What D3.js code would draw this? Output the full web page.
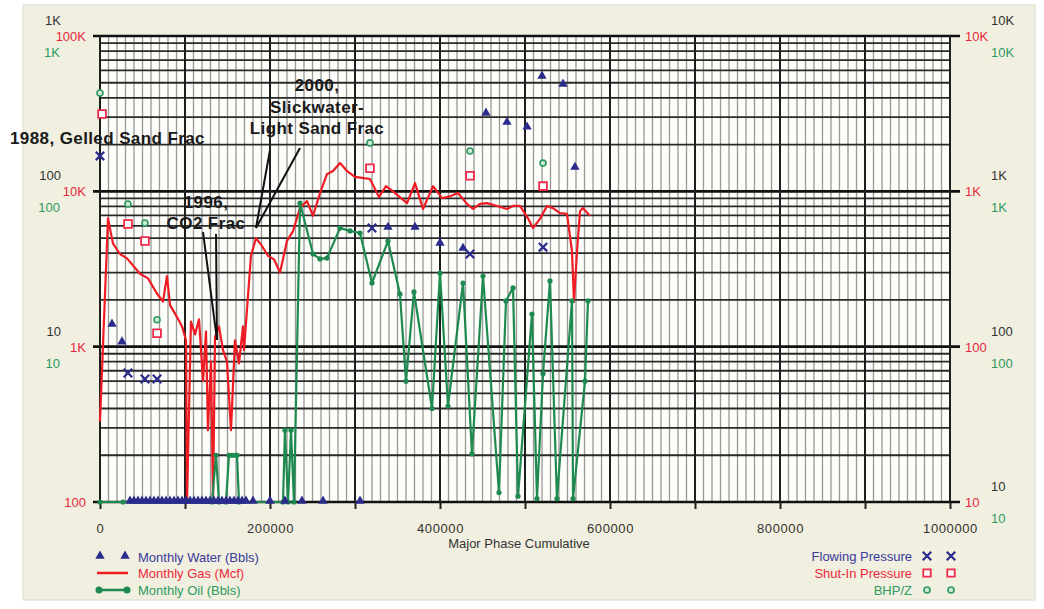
<!DOCTYPE html>
<html><head><meta charset="utf-8">
<script src="https://cdn.jsdelivr.net/npm/d3@7"></script>
<style>
body{margin:0;background:#fff;}
svg{display:block;font-family:"Liberation Sans",Arial,sans-serif;}
</style></head><body><svg id="c" width="1044" height="609"></svg>
<script>
// ---- DATA ----
// Monthly Gas (Mcf): [cumulative, value]
const gasData = [[0,330],[9400,6700],[15300,4600],[23500,3950],[31800,3700],[47000,2950],[56500,2750],[67000,2200],[74100,1950],[78800,2850],[82400,1850],[90600,1550],[96500,1350],[101200,1100],[102400,100],[107000,1450],[111800,1200],[116500,1500],[121200,600],[124700,1250],[127000,290],[130600,800],[133000,100],[135300,1150],[140000,1350],[144700,950],[149400,800],[154100,290],[158800,1100],[163500,780],[168200,1350],[169400,950],[177600,3850],[183500,5000],[190600,4450],[197600,3850],[204700,3650],[211800,3000],[220000,4800],[227100,5550],[235300,7800],[243500,8650],[250600,6950],[258800,9750],[267000,12900],[274100,13500],[282400,15200],[290600,13500],[300000,12400],[308200,12200],[317600,12000],[328200,9200],[336500,10800],[344700,10000],[361200,8400],[370600,11300],[380000,7700],[391800,10800],[402400,9050],[411800,9300],[421200,9750],[431800,8300],[438800,7700],[447100,8300],[455300,8400],[467100,8050],[478800,7700],[485900,8050],[494100,8050],[503500,6700],[509400,5800],[517600,6650],[525900,8050],[532900,7800],[541200,7250],[549400,7150],[555300,4100],[557600,1950],[561200,4100],[564700,7450],[568200,7800],[576500,6950]];
// Monthly Oil (Bbls)
const oilData = [[0,1],[27000,1],[131800,1],[136500,2],[140000,1],[148200,1],[151800,2],[155300,2],[158800,2],[161200,2],[163500,1],[215300,1],[217600,2.9],[221200,1],[224700,2.9],[228200,1],[235300,84],[250600,39.5],[258800,36.7],[267000,37.2],[282400,58],[294100,55.6],[305900,53.9],[320000,25.7],[338800,47.9],[352900,21.8],[360000,6],[369400,22.5],[390600,4],[400000,29.8],[409400,4.15],[427100,25.7],[437600,2.04],[450600,28.5],[469400,1.15],[477600,19.7],[485900,23.9],[491800,1.09],[508200,16.2],[514100,1.05],[521200,6.7],[529400,26.5],[537600,1.05],[555300,19.7],[556500,1.05],[570600,6],[574100,19.7]];
// Monthly Water (Bbls)
const waterData = [[14100,13.8],[25900,10.6],[35300,1],[40000,1],[44700,1],[49400,1],[54100,1],[58800,1],[63500,1],[68200,1],[72900,1],[77600,1],[82400,1],[87100,1],[91800,1],[96500,1],[101200,1],[105900,1],[110600,1],[115300,1],[120000,1],[124700,1],[129400,1],[134100,1],[138800,1],[143500,1],[148200,1],[152900,1],[157600,1],[162400,1],[167100,1],[171800,1],[180000,1],[200000,1],[217600,1],[237600,1],[262400,1],[305900,1],[338800,58],[370600,58],[400000,45.8],[427100,42.5],[454100,315],[478800,275],[502400,256],[520000,545],[544700,484],[558800,141]];
// Pressures (psi)
const flowingData = [[0,1690],[32900,67.7],[52900,61.9],[67100,61.9],[320000,581],[435300,395],[521200,437]];
const shutInData = [[2400,3150],[32900,616],[52900,479],[67100,122],[317600,1410],[435300,1260],[521200,1080]];
const bhpzData = [[0,4300],[32900,828],[52900,625],[67100,149],[317600,2050],[435300,1820],[521200,1520]];

// Axis ticks / labels
const xTickVals = [0,200000,400000,600000,800000,1000000];
const xTickLabels = ["0","200000","400000","600000","800000","1000000"];
const leftBlackVals = [1000,100,10], leftBlackLabels = ["1K","100","10"];
const leftRedVals = [100000,10000,1000,100], leftRedLabels = ["100K","10K","1K","100"];
const leftGreenVals = [1000,100,10], leftGreenLabels = ["1K","100","10"];
const rightVals = [10000,1000,100,10], rightLabels = ["10K","1K","100","10"];

// Annotations (x in cumulative, y in gas units)
const annoTexts = [
  {t:"1988, Gelled Sand Frac", c:-105900, g:22050, a:"start"},
  {t:"2000,", c:255300, g:48400, a:"middle"},
  {t:"Slickwater-", c:255300, g:34900, a:"middle"},
  {t:"Light Sand Frac", c:255300, g:25600, a:"middle"},
  {t:"1996,", c:124700, g:8540, a:"middle"},
  {t:"CO2 Frac", c:124700, g:6250, a:"middle"}
];
const annoLines = [
  [[200000,18460],[183500,5810]],
  [[235300,19000],[183500,5810]],
  [[121200,5470],[137600,1104]],
  [[136500,5310],[137600,1104]]
];

// ---- CHART ----
const svg = d3.select("#c");
const L=100,R=950,T=36,B=502;
const x = d3.scaleLinear().domain([0,1e6]).range([L,R]);
const yW = d3.scaleLog().domain([1,1000]).range([B,T]).clamp(true);
const yG = d3.scaleLog().domain([100,100000]).range([B,T]).clamp(true);
const yO = d3.scaleLog().domain([1,1000]).range([B,T]).clamp(true);
const yP = d3.scaleLog().domain([10,10000]).range([B,T]).clamp(true);
const xa = d3.scaleLinear().domain([0,1e6]).range([L,R]);
const ya = d3.scaleLog().domain([100,100000]).range([B,T]);

const navy="#2b2b8c", red="#f01c24", green="#1f8a50";

svg.append("rect").attr("width",1044).attr("height",609).attr("fill","#fff");
svg.append("rect").attr("x",23).attr("y",5).attr("width",1012).attr("height",595)
  .attr("fill","#f0efe0").attr("stroke","#dcdccc");
svg.append("rect").attr("x",L).attr("y",T).attr("width",R-L).attr("height",B-T).attr("fill","#fdfdfa");

// grid
const g = svg.append("g");
const xt = x.ticks(100);
g.selectAll(".vmin").data(xt.filter(d=>d%100000!==0)).join("line")
  .attr("x1",d=>x(d)).attr("x2",d=>x(d)).attr("y1",T).attr("y2",B)
  .attr("stroke","#999").attr("stroke-width",1.3);
const yt = yW.ticks();
const isDec = d=>Math.abs(Math.log10(d)-Math.round(Math.log10(d)))<1e-9;
g.selectAll(".hmin").data(yt.filter(d=>!isDec(d))).join("line")
  .attr("x1",L).attr("x2",R).attr("y1",d=>yW(d)).attr("y2",d=>yW(d))
  .attr("stroke","#2a2a2a").attr("stroke-width",1.8);
g.selectAll(".hdec").data(yt.filter(isDec)).join("line")
  .attr("x1",L-7).attr("x2",R+10).attr("y1",d=>yW(d)).attr("y2",d=>yW(d))
  .attr("stroke","#111").attr("stroke-width",2.6);
g.selectAll(".vmaj").data(xt.filter(d=>d%100000===0)).join("line")
  .attr("x1",d=>x(d)).attr("x2",d=>x(d)).attr("y1",T).attr("y2",B)
  .attr("stroke","#1e1e1e").attr("stroke-width",2);

// x axis
const xAxis = d3.axisBottom(x).tickValues(x.ticks(10)).tickSize(7)
  .tickFormat(d=>{const i=xTickVals.indexOf(d);return i>=0?xTickLabels[i]:"";});
const gx = svg.append("g").attr("transform",`translate(0,${B})`).call(xAxis);
gx.select(".domain").remove();
gx.selectAll("line").attr("stroke","#1e1e1e").attr("stroke-width",2);
gx.selectAll("text").attr("y",31).attr("dy",0).attr("font-size",13).attr("fill","#333")
  .attr("font-family","Liberation Sans, Arial, sans-serif").attr("letter-spacing",0.6);
svg.append("text").attr("x",519).attr("y",548).attr("text-anchor","middle")
  .attr("font-size",13).attr("fill","#333").text("Major Phase Cumulative");

function yLabels(axisFn, scale, vals, labels, tx, dyPx, color){
  const ax = axisFn(scale).tickValues(vals).tickSize(0).tickPadding(0)
    .tickFormat(d=>labels[vals.indexOf(d)]);
  const gg = svg.append("g").attr("transform",`translate(${tx},0)`).call(ax);
  gg.select(".domain").remove();
  gg.selectAll("text").attr("y",dyPx).attr("dy","0.35em").attr("font-size",13)
    .attr("fill",color).attr("font-family","Liberation Sans, Arial, sans-serif");
}
yLabels(d3.axisLeft, yW, leftBlackVals, leftBlackLabels, 61, -16, "#333");
yLabels(d3.axisLeft, yG, leftRedVals, leftRedLabels, 86, 0, "#e8283c");
yLabels(d3.axisLeft, yO, leftGreenVals, leftGreenLabels, 60, 16, "#2e9a5e");
yLabels(d3.axisRight, yP, rightVals, rightLabels, 991, -16, "#333");
yLabels(d3.axisRight, yP, rightVals, rightLabels, 965, 0, "#e8283c");
yLabels(d3.axisRight, yP, rightVals, rightLabels, 991, 16, "#2e9a5e");

// series
const plot = svg.append("g");
plot.append("path").datum(gasData)
  .attr("d",d3.line().x(d=>x(d[0])).y(d=>yG(d[1])))
  .attr("fill","none").attr("stroke",red).attr("stroke-width",2.2).attr("stroke-linejoin","round");
plot.append("path").datum(oilData)
  .attr("d",d3.line().x(d=>x(d[0])).y(d=>yO(d[1])))
  .attr("fill","none").attr("stroke",green).attr("stroke-width",2.2).attr("stroke-linejoin","round");
plot.selectAll(".oilm").data(oilData).join("circle")
  .attr("cx",d=>x(d[0])).attr("cy",d=>yO(d[1])).attr("r",2.6).attr("fill",green);

plot.selectAll(".wat").data(waterData).join("path")
  .attr("transform",d=>`translate(${x(d[0])},${yW(d[1])-1})`)
  .attr("d",d3.symbol(d3.symbolTriangle,38)).attr("fill",navy);

plot.selectAll(".flow").data(flowingData).join("path")
  .attr("transform",d=>`translate(${x(d[0])},${yP(d[1])})`)
  .attr("d",d3.symbol(d3.symbolTimes,48)).attr("fill","none").attr("stroke",navy).attr("stroke-width",2.2);
plot.selectAll(".shut").data(shutInData).join("path")
  .attr("transform",d=>`translate(${x(d[0])},${yP(d[1])})`)
  .attr("d",d3.symbol(d3.symbolSquare,60)).attr("fill","#fff").attr("stroke","#ee2a48").attr("stroke-width",1.8);
plot.selectAll(".bhp").data(bhpzData).join("circle")
  .attr("cx",d=>x(d[0])).attr("cy",d=>yP(d[1])).attr("r",3)
  .attr("fill","#cfe9d8").attr("stroke","#2e9a5e").attr("stroke-width",1.6);

// annotations
const an = svg.append("g");
an.selectAll("line").data(annoLines).join("line")
  .attr("x1",d=>xa(d[0][0])).attr("y1",d=>ya(d[0][1]))
  .attr("x2",d=>xa(d[1][0])).attr("y2",d=>ya(d[1][1]))
  .attr("stroke","#111").attr("stroke-width",2);
an.selectAll("text").data(annoTexts).join("text")
  .attr("x",d=>xa(d.c)).attr("y",d=>ya(d.g)).attr("dy","0.35em")
  .attr("text-anchor",d=>d.a).attr("font-size",17).attr("font-weight","bold")
  .attr("letter-spacing",0.4).attr("fill","#1a1a1a").text(d=>d.t);

// legend left
const lg = svg.append("g").attr("font-size",13);
lg.append("path").attr("transform","translate(100,556)").attr("d",d3.symbol(d3.symbolTriangle,38)).attr("fill",navy);
lg.append("path").attr("transform","translate(125,556)").attr("d",d3.symbol(d3.symbolTriangle,38)).attr("fill",navy);
lg.append("text").attr("x",138).attr("y",557).attr("dy","0.35em").attr("fill","#3a3a9a").text("Monthly Water (Bbls)");
lg.append("line").attr("x1",97).attr("x2",128).attr("y1",573).attr("y2",573).attr("stroke",red).attr("stroke-width",2.5);
lg.append("text").attr("x",138).attr("y",573).attr("dy","0.35em").attr("fill","#ee2a3a").text("Monthly Gas (Mcf)");
lg.append("line").attr("x1",98).attr("x2",127).attr("y1",590).attr("y2",590).attr("stroke",green).attr("stroke-width",2.5);
lg.append("circle").attr("cx",99).attr("cy",590).attr("r",3.5).attr("fill",green);
lg.append("circle").attr("cx",127).attr("cy",590).attr("r",3.5).attr("fill",green);
lg.append("text").attr("x",138).attr("y",590).attr("dy","0.35em").attr("fill","#2e9a5e").text("Monthly Oil (Bbls)");

// legend right
const lr = svg.append("g").attr("font-size",13).attr("text-anchor","end");
lr.append("text").attr("x",912).attr("y",556).attr("dy","0.35em").attr("fill","#3a3a9a").text("Flowing Pressure");
lr.append("text").attr("x",912).attr("y",573).attr("dy","0.35em").attr("fill","#ee2a3a").text("Shut-In Pressure");
lr.append("text").attr("x",912).attr("y",590).attr("dy","0.35em").attr("fill","#2e9a5e").text("BHP/Z");
[927,951].forEach(cx=>{
  lr.append("path").attr("transform",`translate(${cx},556)`).attr("d",d3.symbol(d3.symbolTimes,48)).attr("fill","none").attr("stroke",navy).attr("stroke-width",2.2);
  lr.append("path").attr("transform",`translate(${cx},573)`).attr("d",d3.symbol(d3.symbolSquare,55)).attr("fill","#fff").attr("stroke","#ee2a48").attr("stroke-width",1.8);
  lr.append("circle").attr("cx",cx).attr("cy",590).attr("r",3).attr("fill","#cfe9d8").attr("stroke","#2e9a5e").attr("stroke-width",1.6);
});
</script></body></html>
